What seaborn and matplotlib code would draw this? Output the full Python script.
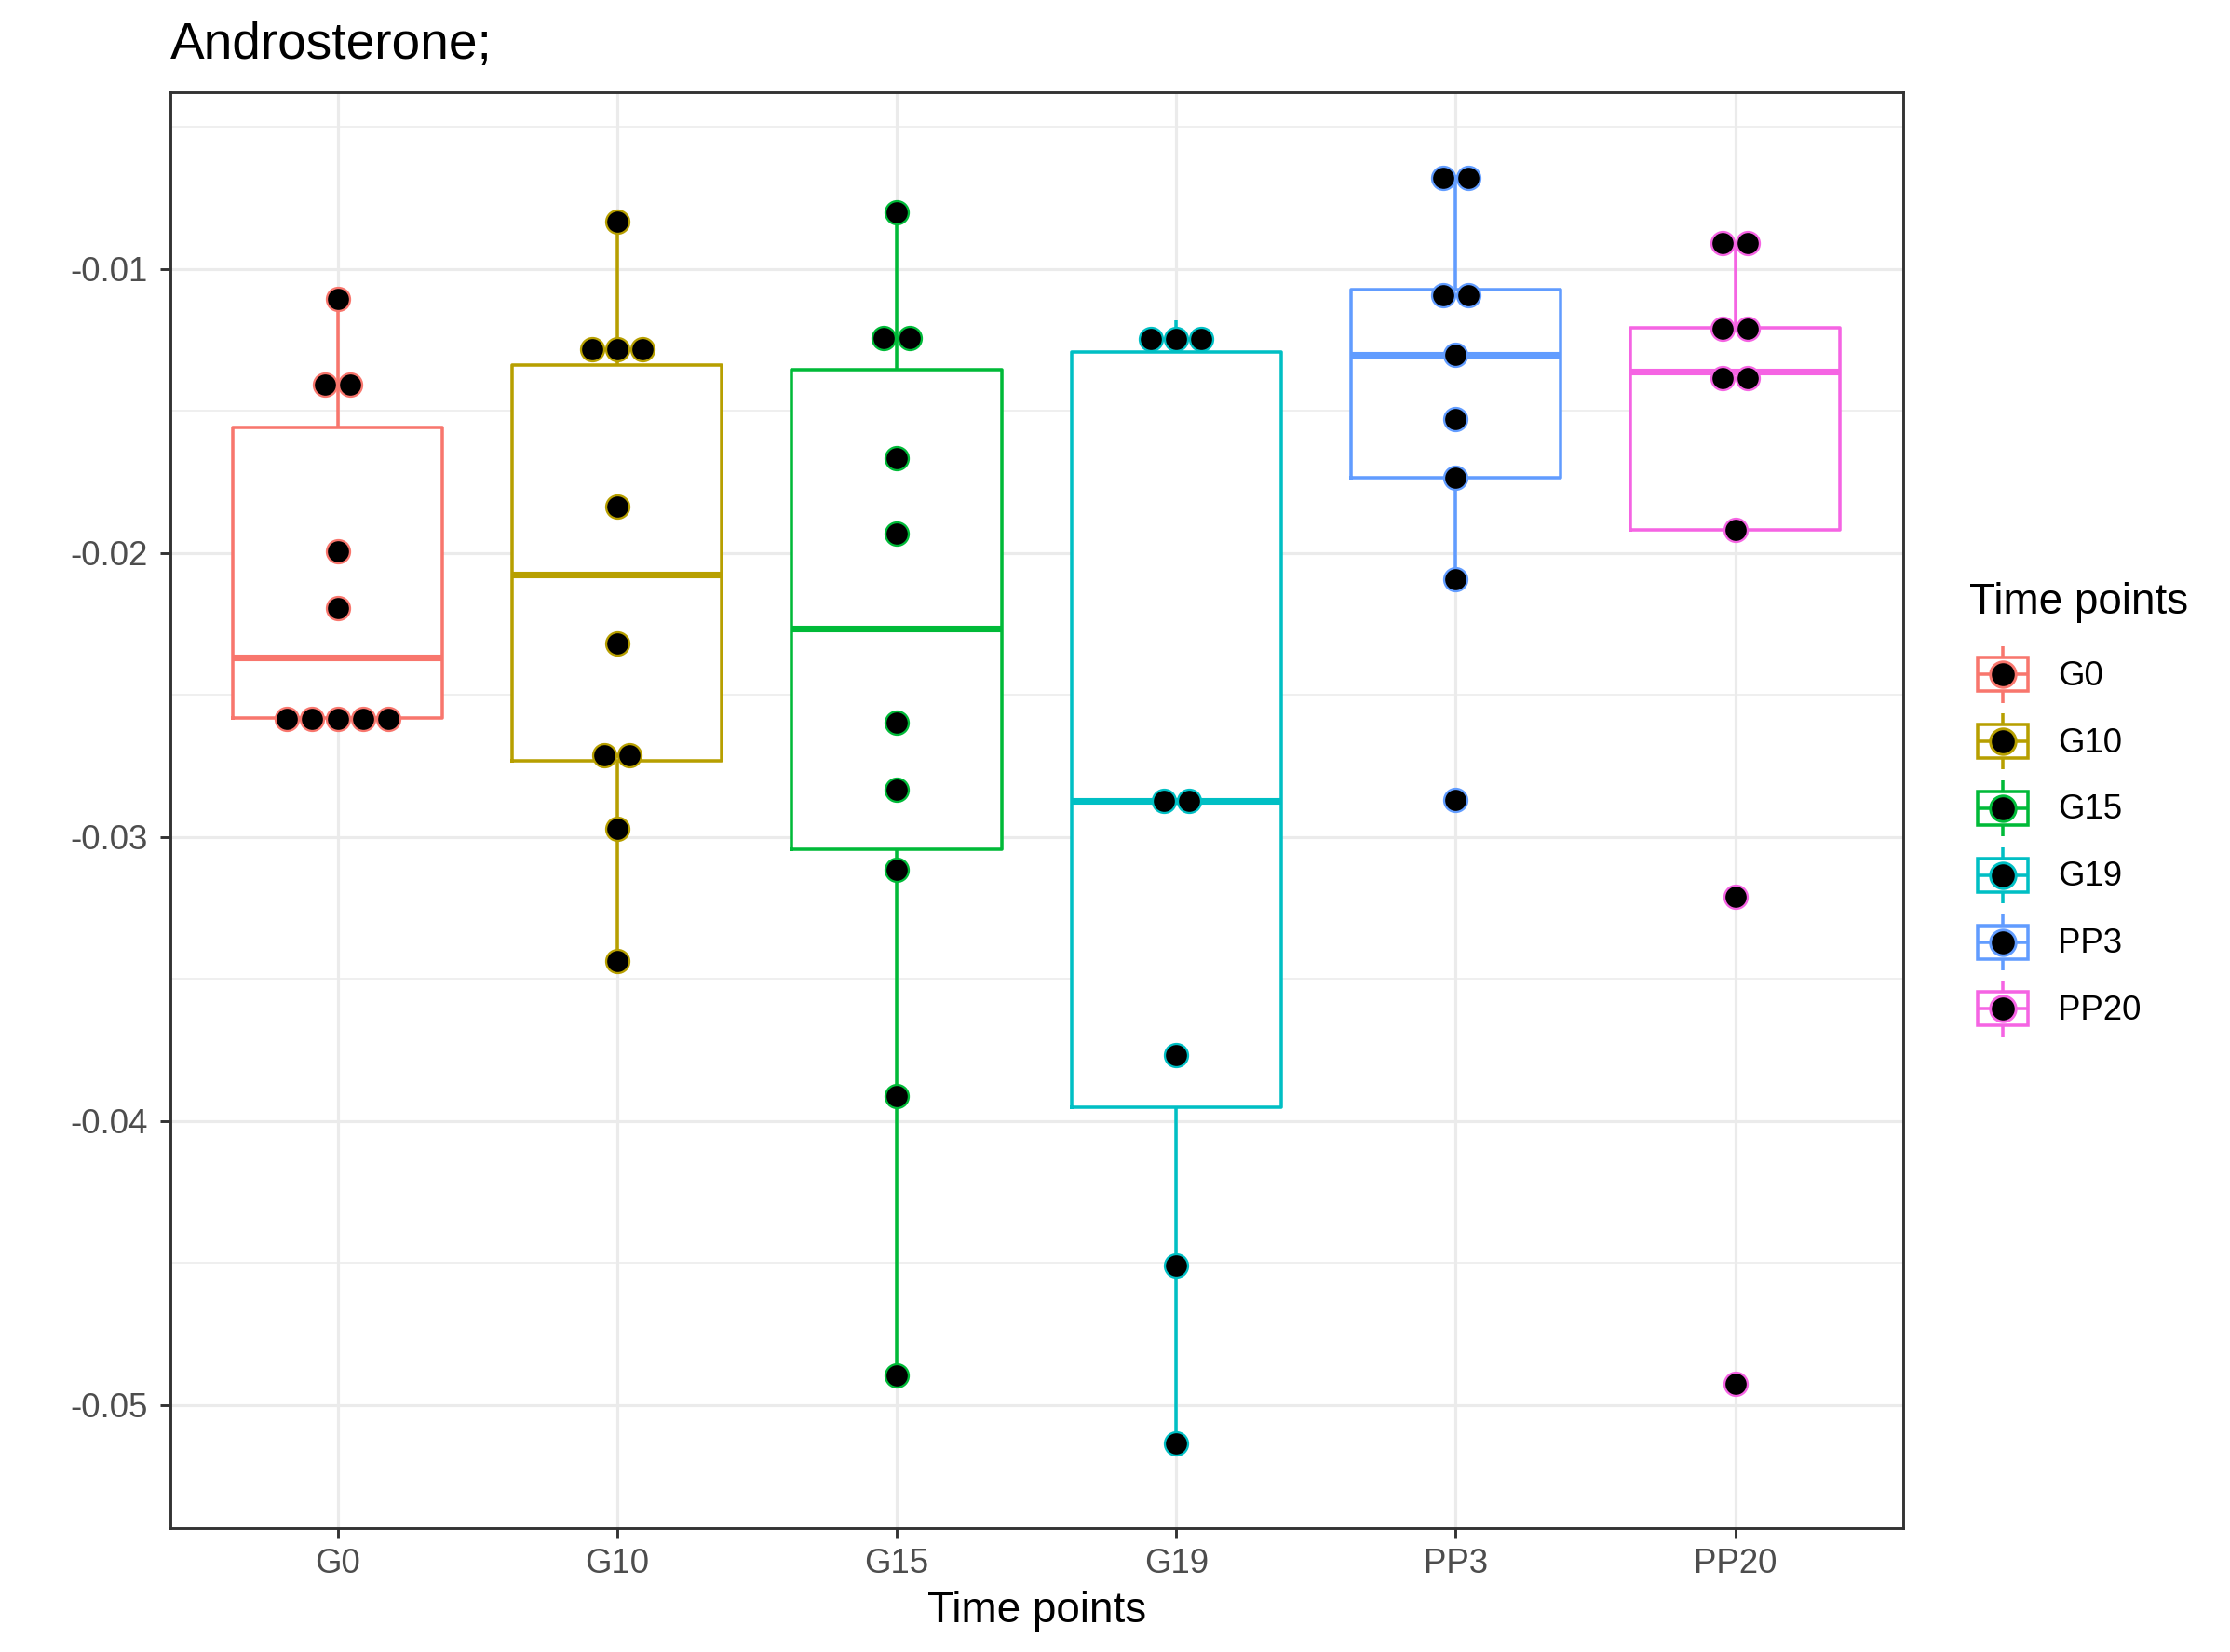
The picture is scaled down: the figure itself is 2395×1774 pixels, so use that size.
import numpy as np
import pandas as pd
import matplotlib
matplotlib.use("Agg")
import matplotlib.pyplot as plt
import seaborn as sns
from matplotlib.ticker import FixedLocator, FuncFormatter
from matplotlib.legend_handler import HandlerBase
from matplotlib.lines import Line2D
from matplotlib.patches import Rectangle

# ---------------- data ----------------
categories = ["G0", "G10", "G15", "G19", "PP3", "PP20"]
colors = ["#F8766D", "#B79F00", "#00BA38", "#00BFC4", "#619CFF", "#F564E3"]

g0 = [-0.02623, -0.02600, -0.02590, -0.02550, -0.02543, -0.02195, -0.01994, -0.01411, -0.01401, -0.01104]
g10 = [-0.03436, -0.02970, -0.02749, -0.02677, -0.02319, -0.01836, -0.01352, -0.01335, -0.01210, -0.00835]
g15 = [-0.04895, -0.03912, -0.03114, -0.02834, -0.02597, -0.01932, -0.01666, -0.01251, -0.01235, -0.00801]
g19 = [-0.05135, -0.04509, -0.03767, -0.02890, -0.02858, -0.01316, -0.01224, -0.01180]
pp3 = [-0.02870, -0.02093, -0.01736, -0.01530, -0.01301, -0.01112, -0.01074, -0.00690, -0.00670]
pp20 = [-0.04925, -0.03210, -0.01920, -0.01405, -0.01361, -0.01210, -0.01208, -0.00909, -0.00909]

title = "Androsterone;"
x_title = "Time points"
legend_title = "Time points"
y_ticks = [-0.05, -0.04, -0.03, -0.02, -0.01]
y_minor = [-0.045, -0.035, -0.025, -0.015, -0.005]
y_limits = (-0.05432, -0.003784)

groups = [g0, g10, g15, g19, pp3, pp20]
df = pd.DataFrame({
    "Time points": np.repeat(categories, [len(g) for g in groups]),
    "value": np.concatenate(groups),
})
palette = dict(zip(categories, colors))

plt.rcParams["font.family"] = ["Liberation Sans", "DejaVu Sans"]
plt.rcParams["axes.unicode_minus"] = False

W, H, DPI = 2395, 1774, 300
fig = plt.figure(figsize=(W / DPI, H / DPI), dpi=DPI)
fig.patch.set_facecolor("white")
L, R, T, B = 182.5, 2043.7, 99.2, 1640.7
ax = fig.add_axes([L / W, 1 - B / H, (R - L) / W, (B - T) / H])

# white filled boxes (background), then coloured outlines
sns.boxplot(data=df, x="Time points", y="value", order=categories, color="white",
            width=0.75, linewidth=0, showcaps=False, showfliers=False, whis=1.5, ax=ax)
sns.boxplot(data=df, x="Time points", y="value", hue="Time points", order=categories,
            hue_order=categories, palette=palette, fill=False, width=0.75, linewidth=0.85,
            showcaps=False, showfliers=False, whis=1.5, medianprops={"linewidth": 1.7},
            legend=False, ax=ax)

ax.set_xlim(-0.6, 5.6)
ax.set_ylim(*y_limits)
ax.set_xlabel("")
ax.set_ylabel("")

# ---- theme (ggplot theme_bw look) ----
ax.set_facecolor("white")
ax.set_axisbelow(True)
ax.yaxis.set_major_locator(FixedLocator(y_ticks))
ax.yaxis.set_minor_locator(FixedLocator(y_minor))
ax.yaxis.set_major_formatter(FuncFormatter(lambda v, p: f"{v:.2f}"))
ax.grid(True, which="major", axis="both", color="#EBEBEB", linewidth=0.75)
ax.yaxis.grid(True, which="minor", color="#EBEBEB", linewidth=0.37)
for s in ax.spines.values():
    s.set_visible(True)
    s.set_color("#333333")
    s.set_linewidth(0.7)
ax.tick_params(axis="both", which="major", direction="out", length=2.75, width=0.7,
               color="#333333", labelcolor="#4D4D4D", labelsize=8.8)
ax.tick_params(axis="x", pad=2.4)
ax.tick_params(axis="y", pad=3.0)
ax.tick_params(which="minor", length=0)

# ---- dot plot (dotdensity binning, centre stacking) ----
bw = (df["value"].max() - df["value"].min()) / 30.0
px_per_y = (ax.transData.transform((0, -0.01))[1] - ax.transData.transform((0, -0.02))[1]) / 0.01
px_per_x = ax.transData.transform((1, 0))[0] - ax.transData.transform((0, 0))[0]
dotsize = 0.6
diam_px = dotsize * bw * px_per_y
dx = diam_px / px_per_x
edge_lw = 0.55
diam_pt = diam_px * 72.0 / DPI
msize = (diam_pt - edge_lw) ** 2


def dot_bins(vals, width):
    v = np.sort(np.asarray(vals))
    bins, cur, end = [], [], -np.inf
    for x in v:
        if x >= end:
            if cur:
                bins.append(cur)
            cur = [x]
            end = x + width
        else:
            cur.append(x)
    bins.append(cur)
    return [((min(b) + max(b)) / 2.0, len(b)) for b in bins]


for i, (vals, col) in enumerate(zip(groups, colors)):
    for c, n in dot_bins(vals, bw):
        xs = i + (np.arange(n) - (n - 1) / 2.0) * dx
        ax.scatter(xs, np.full(n, c), s=msize, c="black", edgecolors=col,
                   linewidths=edge_lw, zorder=4)

# ---- titles ----
fig.text(L / W, 1 - 63 / H, title, fontsize=13.2, ha="left", va="baseline", color="black")
fig.text((L + R) / 2 / W, 1 - 1742 / H, x_title, fontsize=11, ha="center", va="baseline",
         color="black")


# ---- legend ----
class BoxDotHandler(HandlerBase):
    def create_artists(self, legend, orig_handle, xdescent, ydescent, width, height,
                       fontsize, trans):
        col = orig_handle.get_color()
        cx = -xdescent + width / 2.0
        cy = -ydescent + height / 2.0
        K = 17.28
        lw = 0.85
        w_top = Line2D([cx, cx], [cy + 0.25 * K, cy + 0.42 * K], color=col, lw=lw,
                       solid_capstyle="butt", transform=trans)
        w_bot = Line2D([cx, cx], [cy - 0.42 * K, cy - 0.25 * K], color=col, lw=lw,
                       solid_capstyle="butt", transform=trans)
        rect = Rectangle((cx - 0.375 * K, cy - 0.25 * K), 0.75 * K, 0.5 * K,
                         facecolor="white", edgecolor=col, lw=lw, transform=trans)
        med = Line2D([cx - 0.375 * K, cx + 0.375 * K], [cy, cy], color=col, lw=lw,
                     solid_capstyle="butt", transform=trans)
        dot = Line2D([cx], [cy], marker="o", markersize=6.6, markerfacecolor="black",
                     markeredgecolor=col, markeredgewidth=0.7, linestyle="none",
                     transform=trans)
        return [w_top, w_bot, rect, med, dot]


proxies = [Line2D([], [], color=c) for c in colors]
leg = fig.legend(proxies, categories, handler_map={Line2D: BoxDotHandler()},
                 loc="upper left", bbox_to_anchor=(2115 / W, 1 - 625 / H),
                 frameon=False, fontsize=8.8, title=legend_title, title_fontsize=11,
                 alignment="left", handlelength=1.9636, handleheight=2.174,
                 labelspacing=0.3, handletextpad=0.62, borderpad=0, borderaxespad=0)
# extra space between legend title and its entries
leg._legend_box.sep = 6.0

fig.savefig("out.png", dpi=DPI, facecolor="white")
